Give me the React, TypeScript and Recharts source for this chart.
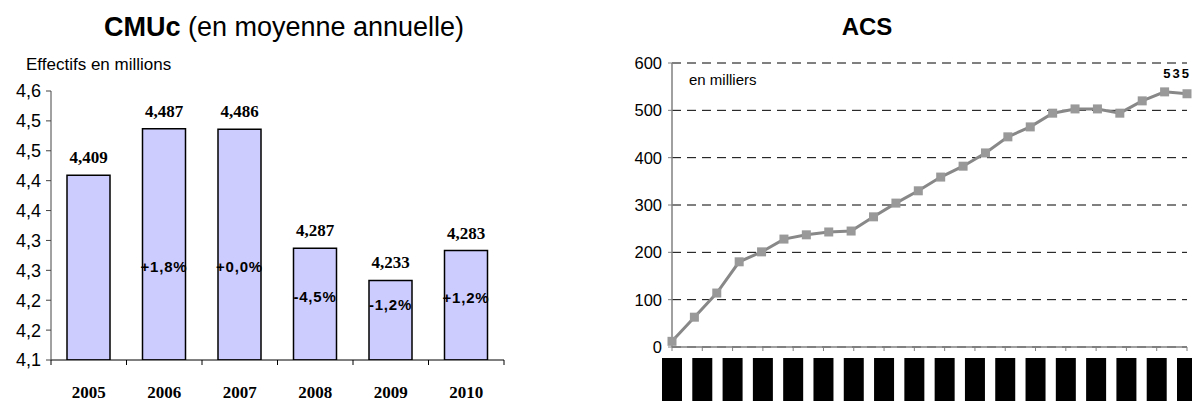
import React from 'react';
import {
  BarChart,
  Bar,
  LineChart,
  Line,
  XAxis,
  YAxis,
  CartesianGrid,
  LabelList
} from 'recharts';

// CMUc, yearly average (millions)
const years = ['2005', '2006', '2007', '2008', '2009', '2010'];
const cmucValues = [4.409, 4.487, 4.486, 4.287, 4.233, 4.283];
const cmucChanges = ['', '+1,8%', '+0,0%', '-4,5%', '-1,2%', '+1,2%'];
const cmucTicks = [4.1, 4.15, 4.2, 4.25, 4.3, 4.35, 4.4, 4.45, 4.5, 4.55];
const cmucTickLabels = ['4,1', '4,2', '4,2', '4,3', '4,3', '4,4', '4,4', '4,5', '4,5', '4,6'];

// ACS (thousands)
const acsValues = [12, 63, 114, 180, 201, 228, 237, 243, 245, 275, 304, 330, 359, 382, 410, 444, 465, 494, 503, 503, 494, 520, 539, 535];
const acsYTicks = [0, 100, 200, 300, 400, 500, 600];
const acsXTickCount = 18;

const SANS = '"Liberation Sans", Arial, sans-serif';
const SERIF = '"Liberation Serif", "Times New Roman", serif';

const cmucData = years.map((year, i) => ({ year, value: cmucValues[i], change: cmucChanges[i] }));
const acsData = acsValues.map((v, i) => ({ i, value: v }));
const lastIdx = acsValues.length - 1;
const acsXTicks = Array.from({ length: acsXTickCount }, (_, k) => (k * lastIdx) / (acsXTickCount - 1));

// left chart geometry
const L_W = 560;
const L_H = 401;
const L_MARGIN = { top: 91, right: 56, left: 6, bottom: 0 };
const L_YAXIS_W = 45;
const L_PLOT_W = L_W - L_MARGIN.left - L_MARGIN.right - L_YAXIS_W;
const BAND = L_PLOT_W / years.length;

const YearTick = (props: any) => {
  const { x, y, payload, index } = props;
  return (
    <g>
      <line x1={x - BAND / 2} x2={x - BAND / 2} y1={y} y2={y + 5} stroke="#000" />
      {index === years.length - 1 && (
        <line x1={x + BAND / 2} x2={x + BAND / 2} y1={y} y2={y + 5} stroke="#000" />
      )}
      <text x={x} y={y + 38} textAnchor="middle" fontFamily={SERIF} fontWeight="bold" fontSize={17} fill="#000">
        {payload.value}
      </text>
    </g>
  );
};

const ChangeLabel = (props: any) => {
  const { x, y, width, height, index } = props;
  const txt = cmucChanges[index];
  if (!txt) return null;
  const cy = (y + height / 2 + 290) / 2;
  return (
    <text x={x + width / 2} y={cy} dy={5} textAnchor="middle" fontFamily={SANS} fontWeight="bold" fontSize={15} letterSpacing={0.8} fill="#000">
      {txt}
    </text>
  );
};

const SquareDot = (props: any) => {
  const { cx, cy, index } = props;
  if (cx == null || cy == null) return null;
  return <rect key={index} x={cx - 4.5} y={cy - 4.5} width={9} height={9} fill="#999999" />;
};

const LastLabel = (props: any) => {
  const { x, y, index, value } = props;
  if (index !== lastIdx) return null;
  return (
    <text x={x + 4} y={y - 16} textAnchor="end" fontFamily={SANS} fontWeight="bold" fontSize={13} letterSpacing={2} fill="#000">
      {value}
    </text>
  );
};

const BoxTick = (props: any) => {
  const { x, y } = props;
  return <rect x={x - 10} y={y + 5} width={20} height={43} fill="#000" />;
};

export default function App() {
  return (
    <div style={{ position: 'absolute', left: 0, top: 0, width: 1192, height: 401, background: '#fff', fontFamily: SANS }}>
      <div style={{ position: 'absolute', left: 0, top: 12, width: 568, textAlign: 'center', fontSize: 27, color: '#000' }}>
        <b>CMUc</b> (en moyenne annuelle)
      </div>
      <div style={{ position: 'absolute', left: 26, top: 55, fontSize: 17, color: '#000' }}>Effectifs en millions</div>

      <div style={{ position: 'absolute', left: 0, top: 0 }}>
        <BarChart width={L_W} height={L_H} data={cmucData} margin={L_MARGIN}>
          <XAxis
            dataKey="year"
            axisLine={{ stroke: '#000', strokeWidth: 1 }}
            tickLine={false}
            tickSize={0}
            tickMargin={0}
            tick={<YearTick />}
            height={41}
            interval={0}
          />
          <YAxis
            domain={[4.1, 4.55]}
            ticks={cmucTicks}
            width={L_YAXIS_W}
            interval={0}
            axisLine={{ stroke: '#444' }}
            tickLine={{ stroke: '#444' }}
            tickSize={5}
            tickMargin={5}
            tickFormatter={(_v: number, i: number) => cmucTickLabels[i]}
            tick={{ fontFamily: SANS, fontSize: 18, fill: '#000' }}
            allowDataOverflow
          />
          <Bar dataKey="value" fill="#CCCCFF" stroke="#000" strokeWidth={1.5} barSize={43} isAnimationActive={false}>
            <LabelList
              dataKey="value"
              position="top"
              offset={12}
              formatter={(v: number) => v.toFixed(3).replace('.', ',')}
              style={{ fontFamily: SERIF, fontWeight: 'bold', fontSize: 17, fill: '#000' }}
            />
            <LabelList dataKey="change" content={<ChangeLabel />} />
          </Bar>
        </BarChart>
      </div>

      <div style={{ position: 'absolute', left: 600, top: 13, width: 534, textAlign: 'center', fontSize: 24, fontWeight: 'bold', color: '#000' }}>
        ACS
      </div>
      <div style={{ position: 'absolute', left: 689, top: 71, fontSize: 15, color: '#000' }}>en milliers</div>

      <div style={{ position: 'absolute', left: 600, top: 0 }}>
        <LineChart width={592} height={401} data={acsData} margin={{ top: 63, right: 5, left: 12, bottom: 0 }}>
          <CartesianGrid vertical={false} stroke="#000" strokeDasharray="9 6" />
          <XAxis
            dataKey="i"
            type="number"
            domain={[0, lastIdx]}
            ticks={acsXTicks}
            interval={0}
            height={54}
            axisLine={{ stroke: '#808080', strokeWidth: 1.5 }}
            tickLine={{ stroke: '#808080' }}
            tickSize={4}
            tick={<BoxTick />}
          />
          <YAxis
            domain={[0, 600]}
            ticks={acsYTicks}
            width={60}
            interval={0}
            axisLine={{ stroke: '#808080', strokeWidth: 1.5 }}
            tickLine={{ stroke: '#808080' }}
            tickSize={4}
            tickMargin={6}
            tick={{ fontFamily: SANS, fontSize: 16.5, fill: '#000' }}
          />
          <Line
            type="linear"
            dataKey="value"
            stroke="#888888"
            strokeWidth={3}
            dot={<SquareDot />}
            activeDot={false}
            isAnimationActive={false}
          >
            <LabelList dataKey="value" content={<LastLabel />} />
          </Line>
        </LineChart>
      </div>
    </div>
  );
}
